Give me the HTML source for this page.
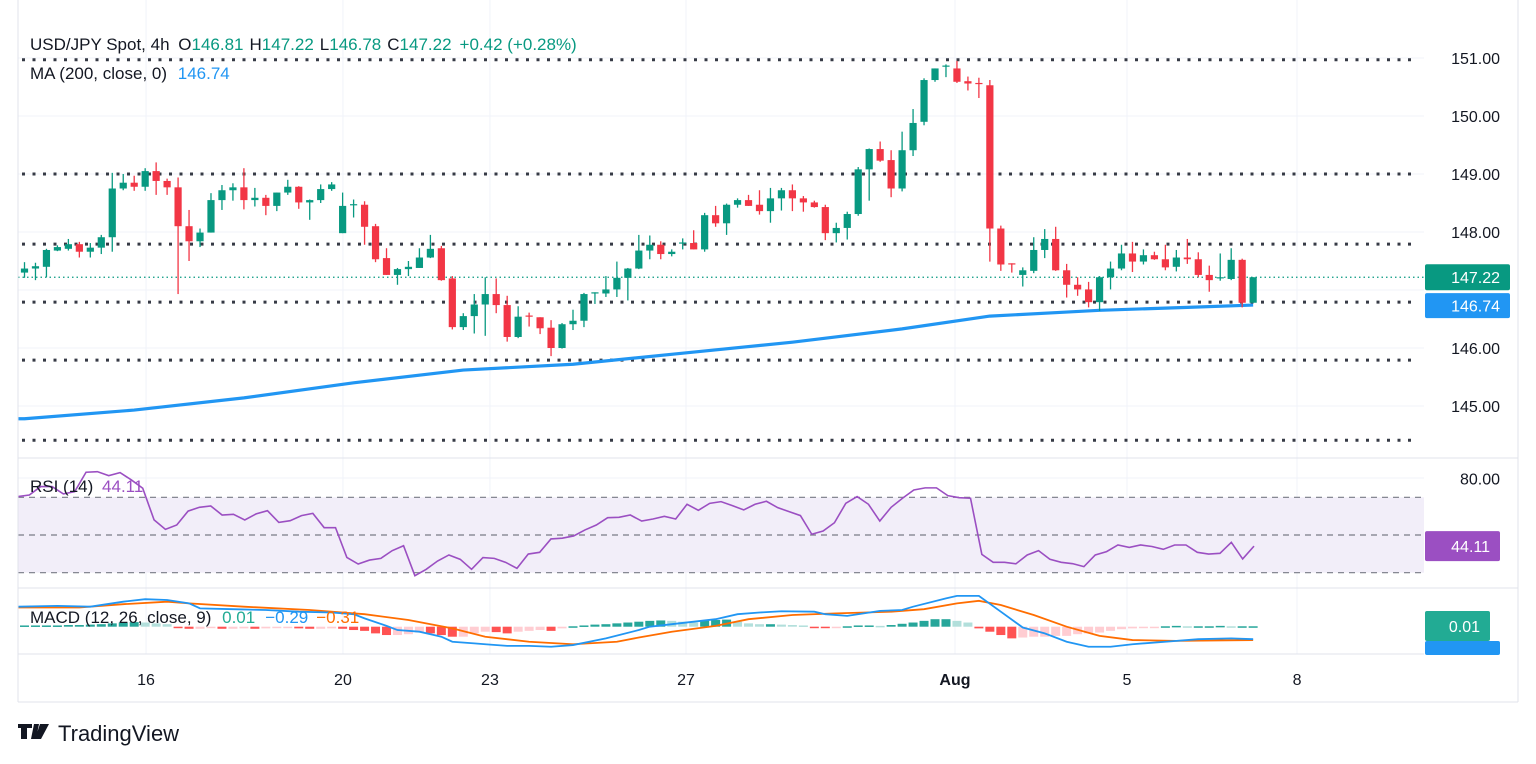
<!DOCTYPE html>
<html><head><meta charset="utf-8"><style>
html,body{margin:0;padding:0;background:#fff;}
svg{display:block;font-family:"Liberation Sans",sans-serif;}
</style></head><body>
<svg id="chart" width="1536" height="764" viewBox="0 0 1536 764" xmlns="http://www.w3.org/2000/svg">
<rect x="0" y="0" width="1536" height="764" fill="#ffffff"/>
<g id="grid"></g>
<rect x="18" y="497.3" width="1406" height="75.4" fill="#f2eef9"/>
<g id="levels"></g>
<g id="ma"></g>
<g id="candles"></g>
<g id="rsi"></g>
<g id="macd"></g>
<g id="axes"></g>
<g font-size="17">
<text x="30" y="50" fill="#131722">USD/JPY Spot, 4h <tspan dx="4">O</tspan><tspan fill="#089981">146.81</tspan><tspan dx="6">H</tspan><tspan fill="#089981">147.22</tspan><tspan dx="6">L</tspan><tspan fill="#089981">146.78</tspan><tspan dx="6">C</tspan><tspan fill="#089981">147.22</tspan><tspan dx="8" fill="#089981">+0.42 (+0.28%)</tspan></text>
<text x="30" y="79" fill="#131722">MA (200, close, 0) <tspan dx="6" fill="#2196f3">146.74</tspan></text>
<text x="30" y="492" fill="#131722">RSI (14) <tspan dx="4" fill="#9b4fc2">44.11</tspan></text>
<text x="30" y="623" fill="#131722">MACD (12, 26, close, 9) <tspan dx="6" fill="#22ab94">0.01</tspan><tspan dx="10" fill="#2196f3">−0.29</tspan><tspan dx="8" fill="#ff6d00">−0.31</tspan></text>
</g>
<g>
<path d="M18 724h14v4h-5v11h-6v-11h-3z M34 724h5l-3 15h-5z M40 724h9l-8 15h-6z" fill="#131722"/>
<text x="58" y="741" font-size="22" fill="#131722">TradingView</text>
</g>
</svg>
<script>
const opens=[147.30,147.37,147.40,147.68,147.71,147.79,147.66,147.73,147.91,148.75,148.85,148.78,149.05,148.88,148.77,148.10,147.84,147.99,148.55,148.72,148.77,148.55,148.59,148.45,148.68,148.78,148.51,148.55,148.74,147.98,148.47,148.47,148.10,147.55,147.26,147.36,147.38,147.56,147.72,147.20,146.36,146.55,146.75,146.93,146.74,146.19,146.56,146.53,146.35,146.00,146.41,146.47,146.95,146.94,147.01,147.21,147.37,147.68,147.78,147.62,147.80,147.81,147.70,148.29,148.15,148.47,148.55,148.47,148.36,148.58,148.72,148.58,148.51,148.43,147.98,148.07,148.31,149.08,149.43,149.24,148.75,149.41,149.90,150.62,150.85,150.82,150.60,150.57,150.53,148.06,147.46,147.26,147.33,147.69,147.88,147.34,147.09,147.01,146.79,147.22,147.37,147.63,147.49,147.60,147.53,147.40,147.56,147.53,147.26,147.20,147.19,147.52,146.78];
const highs=[147.48,147.47,147.71,147.77,147.88,147.83,147.81,147.95,149.02,149.00,148.97,149.10,149.20,148.92,148.94,148.38,148.06,148.67,148.81,148.84,149.10,148.76,148.64,148.68,148.90,148.79,148.56,148.82,148.86,148.68,148.56,148.53,148.14,147.72,147.38,147.50,147.72,147.95,147.76,147.24,146.60,146.93,147.22,147.20,146.90,146.72,146.61,146.53,146.48,146.43,146.66,146.95,146.96,147.24,147.49,147.38,147.95,147.94,147.84,147.70,147.89,148.03,148.33,148.45,148.49,148.58,148.64,148.72,148.76,148.76,148.82,148.62,148.54,148.47,148.16,148.35,149.12,149.44,149.56,149.41,149.73,150.12,150.65,150.82,150.89,150.95,150.68,150.66,150.62,148.11,147.46,147.39,147.91,148.05,148.09,147.45,147.22,147.14,147.24,147.49,147.78,147.83,147.70,147.66,147.78,147.69,147.88,147.65,147.42,147.63,147.72,147.54,147.22];
const lows=[147.21,147.17,147.22,147.67,147.68,147.56,147.56,147.62,147.66,148.72,148.71,148.71,148.64,148.64,146.93,147.50,147.74,147.99,148.38,148.54,148.39,148.44,148.29,148.36,148.64,148.40,148.21,148.50,148.71,147.98,148.25,147.78,147.48,147.26,147.09,147.24,147.38,147.55,147.16,146.32,146.31,146.25,146.21,146.60,146.11,146.17,146.37,146.24,145.86,145.99,146.31,146.36,146.76,146.88,146.88,146.82,147.36,147.53,147.53,147.58,147.70,147.70,147.66,148.09,147.95,148.42,148.45,148.30,148.16,148.37,148.36,148.35,148.42,147.86,147.82,147.87,148.28,148.54,149.21,148.60,148.70,149.31,149.84,150.59,150.67,150.57,150.44,150.31,147.49,147.33,147.30,147.06,147.29,147.55,147.33,146.87,146.90,146.70,146.64,147.01,147.34,147.31,147.44,147.52,147.34,147.32,147.45,147.22,146.97,147.16,147.17,146.70,146.78];
const closes=[147.37,147.41,147.69,147.74,147.79,147.66,147.73,147.91,148.75,148.85,148.78,149.05,148.88,148.77,148.10,147.84,147.99,148.55,148.72,148.77,148.55,148.59,148.45,148.68,148.78,148.51,148.55,148.74,148.82,148.45,148.48,148.09,147.53,147.26,147.36,147.40,147.56,147.71,147.17,146.36,146.55,146.75,146.93,146.74,146.19,146.54,146.54,146.34,146.00,146.41,146.47,146.93,146.96,147.01,147.21,147.37,147.68,147.78,147.62,147.66,147.82,147.70,148.29,148.15,148.47,148.55,148.45,148.36,148.58,148.72,148.58,148.51,148.43,147.98,148.07,148.31,149.08,149.43,149.23,148.75,149.41,149.88,150.62,150.82,150.87,150.59,150.56,150.55,148.06,147.44,147.44,147.34,147.69,147.88,147.34,147.09,147.01,146.79,147.22,147.37,147.63,147.49,147.60,147.53,147.39,147.56,147.53,147.26,147.17,147.22,147.52,146.78,147.22];
const maIdx=[0,10,20,30,40,50,60,70,80,88,95,98,106,112];
const maVals=[144.78,144.93,145.14,145.40,145.62,145.72,145.91,146.10,146.33,146.55,146.62,146.65,146.70,146.74];
const levelPrices=[150.97,149.00,147.79,146.79,145.79,144.41];
const priceTicks=[151,150,149,148,147,146,145];
const dateLabels=["16","20","23","27","Aug","5","8"];
const dateIdx=[11.08,29.03,42.43,60.3,84.82,100.5,116];
const rsiVals=[70.4,71.2,75.7,75.7,71.8,73,83.3,83.6,81.5,83.1,79.2,74.8,58,53,55.3,62.7,64.7,65.4,60.6,61,58,61.2,62.9,56.7,57.6,60.3,61.5,53.9,53.9,38.1,34.6,36.7,37.6,41.7,44.3,28.4,31.8,36.2,39.4,37.1,31.8,38,37.6,35.5,32.3,39.9,40.8,47.9,48.3,49.5,52.7,55.3,59.2,59.4,60.6,57.4,58.5,59.9,58.5,66.3,63.1,66.8,67.7,65.6,63.3,66.3,67.9,64.5,62.4,60.3,50.4,52.1,56.5,66.8,70.4,66.3,57.4,64.7,69.5,73.9,75,75,70.9,69.8,69.5,39.7,35.5,35.5,34.7,39.4,41.7,37.1,35.5,34.8,33.2,39.4,41.2,44.7,43.4,44.7,43.9,42.4,44.7,44.7,40.8,39.9,40.3,46.1,37.3,44.11];
const rsiTicks=[80];
const macdIdx=[0,3,6,9,11,13,15,16,19,22,25,28,30,31,33,34,36,38,39,41,42,44,46,48,50,53,56,57,59,61,63,65,67,69,72,73,75,78,80,81,84,85,87,89,91,93,95,97,99,101,104,107,110,112];
const macdVals=[0.48,0.50,0.48,0.60,0.66,0.64,0.56,0.44,0.42,0.40,0.36,0.34,0.30,0.20,0.02,-0.08,-0.12,-0.24,-0.36,-0.40,-0.42,-0.46,-0.46,-0.48,-0.44,-0.28,-0.08,0,0.06,0.12,0.18,0.30,0.34,0.37,0.36,0.30,0.26,0.38,0.40,0.48,0.68,0.74,0.74,0.36,-0.02,-0.16,-0.36,-0.48,-0.48,-0.42,-0.36,-0.30,-0.28,-0.30];
const sigIdx=[0,5,9,13,15,20,26,31,35,39,42,46,50,54,56,59,63,66,70,74,79,82,85,87,89,92,95,98,101,105,112];
const sigVals=[0.46,0.46,0.54,0.60,0.56,0.48,0.40,0.30,0.16,-0.04,-0.24,-0.36,-0.42,-0.36,-0.26,-0.12,0.02,0.18,0.28,0.32,0.36,0.42,0.56,0.62,0.52,0.28,0,-0.22,-0.32,-0.34,-0.32];
const histVals=[0.03,0.03,0.03,0.03,0.04,0.04,0.05,0.06,0.08,0.10,0.11,0.10,0.08,0.06,-0.02,-0.05,-0.05,-0.03,-0.05,-0.05,-0.04,-0.05,-0.04,-0.03,-0.03,-0.04,-0.05,-0.05,-0.04,-0.05,-0.08,-0.10,-0.16,-0.20,-0.20,-0.18,-0.14,-0.16,-0.20,-0.24,-0.24,-0.16,-0.12,-0.13,-0.16,-0.12,-0.10,-0.08,-0.10,-0.04,0.01,0.03,0.05,0.06,0.08,0.10,0.12,0.14,0.15,0.14,0.12,0.10,0.15,0.16,0.17,0.12,0.08,0.06,0.06,0.05,0.04,0.03,-0.02,-0.03,-0.03,0.01,0.03,0.03,0.02,0.04,0.07,0.10,0.14,0.18,0.18,0.14,0.10,-0.04,-0.12,-0.20,-0.28,-0.26,-0.24,-0.24,-0.22,-0.22,-0.18,-0.16,-0.14,-0.10,-0.06,-0.04,-0.03,-0.02,0.01,0.02,0.01,0.01,0.01,0.02,0.01,0.01,0.01];

const NS="http://www.w3.org/2000/svg";
const PL=18, PR=1424;
const xOf=i=>24.5+i*10.97;
const yOf=p=>58+(151-p)*58;
const rsiY=v=>497.3-(v-70)*1.885;
const rsiX=i=>18+i*(1254-18)/(rsiVals.length-1);
const macdY=v=>626.7-v*41.7;
function mk(tag,attrs,parent){const e=document.createElementNS(NS,tag);for(const k in attrs)e.setAttribute(k,attrs[k]);parent.appendChild(e);return e;}
const grid=document.getElementById('grid');
priceTicks.forEach(p=>{const l=mk('line',{x1:PL,x2:PR,y1:yOf(p),y2:yOf(p),stroke:'#f0f3fa','stroke-width':1},grid);

});
[478,554].forEach(y=>{const l=mk('line',{x1:PL,x2:PR,y1:y,y2:y,stroke:'#f0f3fa','stroke-width':1},grid);

});
dateIdx.forEach(d=>{const l=mk('line',{x1:xOf(d),x2:xOf(d),y1:0,y2:654,stroke:'#f0f3fa','stroke-width':1},grid);

});
const levels=document.getElementById('levels');
levelPrices.forEach(p=>{const l=mk('line',{x1:PL+4,x2:1412,y1:yOf(p),y2:yOf(p),stroke:'#363a45','stroke-width':3,'stroke-dasharray':'3 7.5'},levels);

});
const lastClose=closes[closes.length-1], lastMa=maVals[maVals.length-1];
const cur=mk('line',{x1:PL,x2:PR,y1:yOf(lastClose),y2:yOf(lastClose),stroke:'#089981','stroke-width':1.2,'stroke-dasharray':'1.5 3'},levels);


const maG=document.getElementById('ma');
let d=`M${PL} ${yOf(maVals[0])}`;maIdx.forEach((k,j)=>{d+=` L${xOf(k)} ${yOf(maVals[j])}`;});
const maP=mk('path',{d:d,fill:'none',stroke:'#2196f3','stroke-width':3.2,'stroke-linejoin':'round'},maG);


const cg=document.getElementById('candles');
opens.forEach((o,i)=>{const c=closes[i],up=c>=o,col=up?'#089981':'#f23645',x=xOf(i);
const g=mk('g',{},cg);


mk('line',{x1:x,x2:x,y1:yOf(highs[i]),y2:yOf(lows[i]),stroke:col,'stroke-width':1.3},g);
const t=yOf(Math.max(o,c)),b=yOf(Math.min(o,c));
mk('rect',{x:x-3.6,y:t,width:7.2,height:Math.max(1.2,b-t),fill:col},g);});
const rg=document.getElementById('rsi');
[70,50,30].forEach(v=>{const l=mk('line',{x1:PL,x2:PR,y1:rsiY(v),y2:rsiY(v),stroke:'#787b86','stroke-width':1.2,'stroke-dasharray':'6 5'},rg);

});
const rp=mk('path',{d:rsiVals.map((v,i)=>(i?'L':'M')+rsiX(i)+' '+rsiY(v)).join(' '),fill:'none',stroke:'#9b4fc2','stroke-width':1.6},rg);


const mg=document.getElementById('macd');
histVals.forEach((v,i)=>{const prev=i?histVals[i-1]:v;let col;
if(v>=0)col=v>=prev?'#26a69a':'#b2dfdb';else col=v<prev?'#ff5252':'#ffcdd2';
const y0=macdY(0),y1=macdY(v);
const r=mk('rect',{x:xOf(i)-4.5,y:Math.min(y0,y1),width:9,height:Math.max(1.5,Math.abs(y1-y0)),fill:col},mg);

});
const sp=mk('path',{d:sigIdx.map((k,j)=>(j?'L':'M')+(j?xOf(k):PL)+' '+macdY(sigVals[j])).join(' '),fill:'none',stroke:'#ff6d00','stroke-width':1.8},mg);


const bp=mk('path',{d:macdIdx.map((k,j)=>(j?'L':'M')+(j?xOf(k):PL)+' '+macdY(macdVals[j])).join(' '),fill:'none',stroke:'#2196f3','stroke-width':1.8},mg);


const ax=document.getElementById('axes');
[[PL,0,PL,702],[1518,0,1518,702],[PL,702,1518,702],[PL,458,1518,458],[PL,588,1518,588],[PL,654,PR,654]].forEach(a=>{const l=mk('line',{x1:a[0],y1:a[1],x2:a[2],y2:a[3],stroke:'#e0e3eb','stroke-width':1},ax);

});
priceTicks.forEach(p=>{const y=yOf(p);
if(Math.abs(y-yOf(lastClose))<16||Math.abs(y-yOf(lastMa))<16)return;
const t=mk('text',{x:1500,y:y+6,'text-anchor':'end','font-size':16,fill:'#131722'},ax);t.textContent=p.toFixed(2);

});
rsiTicks.forEach(v=>{const t=mk('text',{x:1500,y:rsiY(v)+6,'text-anchor':'end','font-size':16,fill:'#131722'},ax);t.textContent=v.toFixed(2);

});
dateLabels.forEach((s,i)=>{const t=mk('text',{x:xOf(dateIdx[i]),y:685,'text-anchor':'middle','font-size':16,fill:'#131722','font-weight':s==='Aug'?'bold':'normal'},ax);t.textContent=s;

});
function badge(y,h,w,col,txt,name){const g=mk('g',{},ax);


mk('rect',{x:1425,y:y,width:w,height:h,rx:2,fill:col},g);
const t=mk('text',{x:1425+w-10,y:y+h/2+6,'text-anchor':'end','font-size':16,fill:'#fff'},g);t.textContent=txt;}
badge(yOf(lastClose)-13,26,85,'#089981',lastClose.toFixed(2),'last-price-badge');
badge(yOf(lastMa)-12,25,85,'#2196f3',lastMa.toFixed(2),'ma-badge');
badge(rsiY(rsiVals[rsiVals.length-1])-15,30,75,'#9b4fc2',rsiVals[rsiVals.length-1].toFixed(2),'rsi-badge');
badge(641,14,75,'#2196f3','','macd-badge');
badge(611,30,65,'#22ab94','0.01','histogram-badge');
</script>
</body></html>
